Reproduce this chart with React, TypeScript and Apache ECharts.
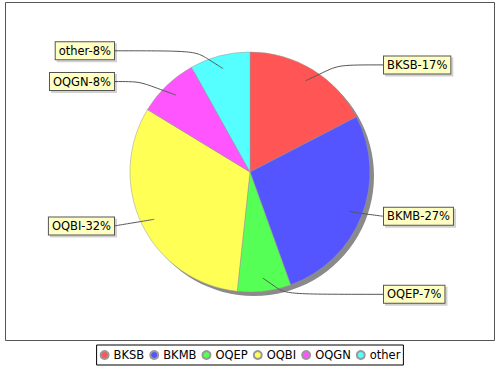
import React, { useEffect, useRef } from "react";
import * as echarts from "echarts";

const categories = ["BKSB", "BKMB", "OQEP", "OQBI", "OQGN", "other"];
const values = [17.4, 27.1, 7.2, 32.0, 8.2, 8.1];
const colors = ["#FF5555", "#5555FF", "#55FF55", "#FFFF55", "#FF55FF", "#55FFFF"];

const CX = 250;
const CY = 172;
const R = 120;
const FONT = "DejaVu Sans";

export default function App() {
  const ref = useRef<HTMLDivElement>(null);
  useEffect(() => {
    if (!ref.current) return;
    const chart = echarts.init(ref.current, null, { renderer: "svg" });
    const total = values.reduce((a, b) => a + b, 0);
    const midAngle = (i: number) => {
      let cum = 0;
      for (let k = 0; k < i; k++) cum += values[k];
      return ((cum + values[i] / 2) / total) * Math.PI * 2;
    };
    const pieData = categories.map((c, i) => ({
      name: c,
      value: values[i],
      itemStyle: { color: colors[i] },
    }));
    chart.setOption({
      animation: false,
      backgroundColor: "#ffffff",
      graphic: [
        {
          type: "rect",
          shape: { x: 5.5, y: 2.5, width: 489, height: 338 },
          style: { fill: "none", stroke: "#555555", lineWidth: 1 },
          silent: true,
          z: -10,
        },
      ],
      legend: {
        data: categories,
        left: "center",
        top: 345,
        icon: "circle",
        itemWidth: 8,
        itemHeight: 8,
        itemGap: 5,
        padding: [4, 3],
        borderColor: "#000000",
        borderWidth: 1,
        backgroundColor: "#ffffff",
        textStyle: { fontFamily: FONT, fontSize: 11.5, color: "#000" },
      },
      series: [
        {
          type: "pie",
          name: "shadow",
          center: [CX + 4, CY + 4],
          radius: R,
          silent: true,
          z: 1,
          label: { show: false },
          labelLine: { show: false },
          data: [{ name: "shadow", value: 1, itemStyle: { color: "#8a8a8a" } }],
        },
        {
          type: "pie",
          name: "main",
          center: [CX, CY],
          radius: R,
          startAngle: 90,
          clockwise: true,
          z: 2,
          data: pieData,
          itemStyle: { borderColor: "#999999", borderWidth: 0.5 },
          emphasis: { disabled: true },
          label: { show: false },
          labelLine: { show: false },
        },
        {
          type: "pie",
          name: "labels",
          center: [CX, CY],
          radius: R,
          startAngle: 90,
          clockwise: true,
          z: 3,
          silent: true,
          data: categories.map((c, i) => ({
            name: c,
            value: values[i],
            itemStyle: { color: "rgba(0,0,0,0)" },
          })),
          itemStyle: { borderWidth: 0 },
          emphasis: { disabled: true },
          label: {
            show: true,
            formatter: (p: any) => `${p.name}-${Math.round(p.percent)}%`,
            fontFamily: FONT,
            fontSize: 11.5,
            color: "#000",
            backgroundColor: "#FFFFC4",
            borderColor: "#555555",
            borderWidth: 1,
            padding: [3, 3, 2, 3],
            shadowColor: "rgba(0,0,0,0.18)",
            shadowOffsetX: 2,
            shadowOffsetY: 2,
            shadowBlur: 0,
          },
          labelLine: {
            show: true,
            smooth: 1,
            lineStyle: { color: "#555555", width: 1, opacity: 1 },
          },
          labelLayout: (params: any) => {
            const i = params.dataIndex;
            const a = midAngle(i);
            const sx = Math.sin(a);
            const cy = -Math.cos(a);
            const start = [CX + R * 0.89 * sx, CY + R * 0.89 * cy];
            const rl = R * 1.035;
            const right = sx >= 0;
            const elbow = [CX + rl * sx + (right ? 4 : -4), CY + rl * cy - 1];
            const lx = right ? CX + 134 : CX - 136;
            const ly = elbow[1];
            return {
              x: lx,
              y: ly,
              align: right ? "left" : "right",
              verticalAlign: "middle",
              labelLinePoints: [start, elbow, [lx, ly]],
            };
          },
        },
      ],
    });
    return () => chart.dispose();
  }, []);
  return (
    <div
      ref={ref}
      style={{ position: "fixed", left: 0, top: 0, width: 500, height: 370 }}
    />
  );
}
